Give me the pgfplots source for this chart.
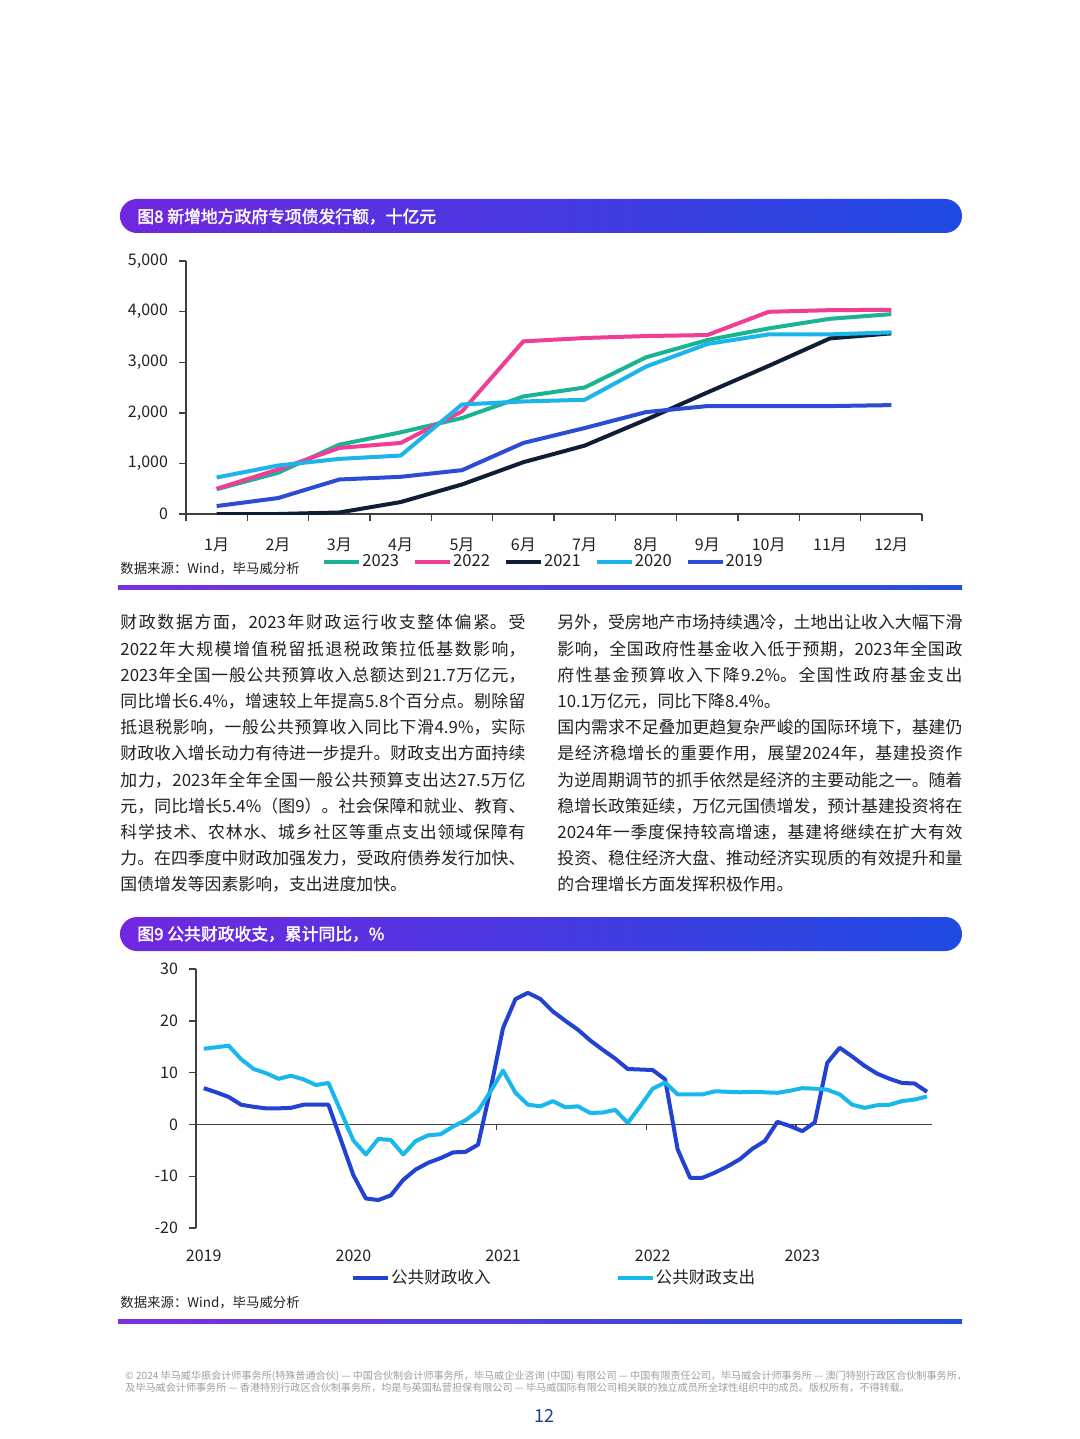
\documentclass[border=0pt]{standalone}
\usepackage{fontspec}
\setmainfont{Noto Sans CJK SC}[AutoFakeBold=2]
\usepackage{pgfplots}
\pgfplotsset{compat=1.18}
\XeTeXlinebreaklocale "zh"
\XeTeXlinebreakskip=0pt plus 3pt
\XeTeXlinebreakpenalty=10000
\setlength\parindent{0pt}
\definecolor{hdL}{HTML}{7127E0}
\definecolor{hdR}{HTML}{1F4BE2}
\definecolor{dvL}{HTML}{7A30DE}
\definecolor{dvR}{HTML}{2451D9}
\definecolor{c23}{HTML}{1AB394}
\definecolor{c22}{HTML}{EF3E94}
\definecolor{c21}{HTML}{0F1E33}
\definecolor{c20}{HTML}{1CB5EB}
\definecolor{c19}{HTML}{2D4CD6}
\definecolor{inc}{HTML}{2342D2}
\definecolor{exp}{HTML}{19B8EC}
\definecolor{txt}{HTML}{222222}
\definecolor{pgnum}{HTML}{1E3F8F}
\newcommand\body{\fontsize{8.43pt}{13.1pt}\selectfont}
\newcommand\hdf{\bfseries\fontsize{8.4pt}{10pt}\selectfont}
\newcommand\tkf{\fontsize{8pt}{9.6pt}\selectfont}
\newcommand\srcf{\fontsize{6.7pt}{8pt}\selectfont}
\begin{document}
\begin{tikzpicture}
\path[use as bounding box, fill=white] (0,0) rectangle (540pt,-719.5pt);
\begin{scope}[x=0.5pt,y=-0.5pt]
% header 1
\shade[left color=hdL, right color=hdR, rounded corners=8.5pt] (120,199) rectangle (962,233);
\node[anchor=west, text=white, font=\hdf, inner sep=0pt] at (137,216.5) {图8 新增地方政府专项债发行额，十亿元};
% divider 1
\shade[left color=dvL, right color=dvR] (118,585) rectangle (962,589);
\node[anchor=west, text=txt, font=\srcf, inner sep=0pt] at (120,569) {数据来源：Wind，毕马威分析};
% body text
\node[anchor=north west, inner sep=0pt, text width=202.5pt, align=justify, font=\body, text=txt] at (120,608.4) {\rule{0pt}{10pt}财政数据方面，2023年财政运行收支整体偏紧。受\linebreak
2022年大规模增值税留抵退税政策拉低基数影响，\linebreak
2023年全国一般公共预算收入总额达到21.7万亿元，\linebreak
同比增长6.4\%，增速较上年提高5.8个百分点。剔除留\linebreak
抵退税影响，一般公共预算收入同比下滑4.9\%，实际\linebreak
财政收入增长动力有待进一步提升。财政支出方面持续\linebreak
加力，2023年全年全国一般公共预算支出达27.5万亿\linebreak
元，同比增长5.4\%（图9）。社会保障和就业、教育、\linebreak
科学技术、农林水、城乡社区等重点支出领域保障有\linebreak
力。在四季度中财政加强发力，受政府债券发行加快、\linebreak
国债增发等因素影响，支出进度加快。};
\node[anchor=north west, inner sep=0pt, text width=202.5pt, align=justify, font=\body, text=txt] at (557,608.4) {\rule{0pt}{10pt}另外，受房地产市场持续遇冷，土地出让收入大幅下滑\linebreak
影响，全国政府性基金收入低于预期，2023年全国政\linebreak
府性基金预算收入下降9.2\%。全国性政府基金支出\linebreak
10.1万亿元，同比下降8.4\%。\par
国内需求不足叠加更趋复杂严峻的国际环境下，基建仍\linebreak
是经济稳增长的重要作用，展望2024年，基建投资作\linebreak
为逆周期调节的抓手依然是经济的主要动能之一。随着\linebreak
稳增长政策延续，万亿元国债增发，预计基建投资将在\linebreak
2024年一季度保持较高增速，基建将继续在扩大有效\linebreak
投资、稳住经济大盘、推动经济实现质的有效提升和量\linebreak
的合理增长方面发挥积极作用。};
% header 2
\shade[left color=hdL, right color=hdR, rounded corners=8.5pt] (120,917) rectangle (962,951);
\node[anchor=west, text=white, font=\hdf, inner sep=0pt] at (137,934) {图9 公共财政收支，累计同比，\%};
% divider 2
\shade[left color=dvL, right color=dvR] (118,1319) rectangle (962,1323);
\node[anchor=west, text=txt, font=\srcf, inner sep=0pt] at (120,1303) {数据来源：Wind，毕马威分析};
% footer
\node[anchor=west, text=black!38, font=\fontsize{5.05pt}{6pt}\selectfont, inner sep=0pt] at (125,1376) {© 2024 毕马威华振会计师事务所(特殊普通合伙) — 中国合伙制会计师事务所，毕马威企业咨询 (中国) 有限公司 — 中国有限责任公司，毕马威会计师事务所 — 澳门特别行政区合伙制事务所，};
\node[anchor=west, text=black!38, font=\fontsize{5.05pt}{6pt}\selectfont, inner sep=0pt] at (125,1388) {及毕马威会计师事务所 — 香港特别行政区合伙制事务所，均是与英国私营担保有限公司 — 毕马威国际有限公司相关联的独立成员所全球性组织中的成员。版权所有，不得转载。};
\node[text=pgnum, font=\fontsize{9pt}{10pt}\selectfont, inner sep=0pt] at (544,1416) {12};
\end{scope}

% chart 1
\begin{axis}[
 at={(93pt,-257pt)}, anchor=south west,
 scale only axis, width=368pt, height=126.5pt,
 xmin=0.5, xmax=12.5, ymin=0, ymax=5000,
 axis x line=bottom, axis y line=left,
 axis line style={line width=0.7pt, color=black!75, -},
 tick style={line width=0.7pt, color=black!75},
 tick align=outside, major tick length=3.5pt,
 xtick={0.5,1.5,...,12.5}, x tick label as interval,
 xticklabels={1月,2月,3月,4月,5月,6月,7月,8月,9月,10月,11月,12月},
 ytick={0,1000,...,5000},
 yticklabels={0,{1,000},{2,000},{3,000},{4,000},{5,000}},
 tick label style={font=\tkf, text=txt},
 xticklabel style={yshift=-5pt},
 yticklabel style={xshift=-2pt},
 legend columns=5,
 legend style={at={(0.485,-0.19)}, anchor=center, draw=none, fill=none, inner sep=0pt,
   font=\fontsize{8.3pt}{10pt}\selectfont, text=txt, nodes={inner sep=0.5pt},
   /tikz/every even column/.append style={column sep=6.5pt}},
 legend image code/.code={\draw[#1, line width=2pt] (0pt,0pt) -- (17.5pt,0pt);},
 every axis plot/.append style={line width=2pt, line join=round},
]
\addplot[c23] coordinates {(1,490)(2,814)(3,1371)(4,1614)(5,1896)(6,2323)(7,2500)(8,3097)(9,3438)(10,3668)(11,3858)(12,3950)};
\addlegendentry{2023}
\addplot[c22] coordinates {(1,499)(2,879)(3,1306)(4,1404)(5,2028)(6,3412)(7,3478)(8,3517)(9,3537)(10,3996)(11,4029)(12,4035)};
\addlegendentry{2022}
\addplot[c21] coordinates {(1,0)(2,0)(3,30)(4,236)(5,584)(6,1024)(7,1352)(8,1864)(9,2402)(10,2927)(11,3471)(12,3570)};
\addlegendentry{2021}
\addplot[c20] coordinates {(1,722)(2,958)(3,1089)(4,1155)(5,2165)(6,2224)(7,2257)(8,2913)(9,3360)(10,3550)(11,3550)(12,3589)};
\addlegendentry{2020}
\addplot[c19] coordinates {(1,157)(2,315)(3,682)(4,735)(5,866)(6,1404)(7,1699)(8,2014)(9,2133)(10,2133)(11,2133)(12,2152)};
\addlegendentry{2019}
\end{axis}

% chart 2
\begin{axis}[
 at={(98pt,-614pt)}, anchor=south west,
 scale only axis, width=368pt, height=129.5pt,
 xmin=-0.62, xmax=58.4, ymin=-20, ymax=30,
 axis x line=bottom, axis y line=left,
 x axis line style={draw=none},
 y axis line style={line width=0.7pt, color=black!75, -},
 xtick={0,12,24,36,48}, xticklabels={2019,2020,2021,2022,2023},
 xtick style={draw=none},
 ytick={-20,-10,...,30}, yticklabels={-20,-10,0,10,20,30},
 ytick style={line width=0.7pt, color=black!75},
 tick align=outside, major tick length=3.5pt,
 tick label style={font=\tkf, text=txt},
 xticklabel style={yshift=-4pt},
 yticklabel style={xshift=-2pt},
 legend columns=2,
 legend style={at={(0.486,-0.193)}, anchor=center, draw=none, fill=none, inner sep=0pt,
   font=\fontsize{8.3pt}{10pt}\selectfont, text=txt, nodes={inner sep=0.5pt},
   /tikz/every even column/.append style={column sep=62pt}},
 legend image code/.code={\draw[#1, line width=2pt] (0pt,0pt) -- (17.5pt,0pt);},
 every axis plot/.append style={line width=2pt, line join=round},
 clip=false,
]
\draw[line width=0.7pt, black!75] (axis cs:-0.62,0) -- (axis cs:58.4,0);
\draw[line width=0.7pt, black!75] (axis cs:11.5,0) -- ++(0pt,-3pt);
\draw[line width=0.7pt, black!75] (axis cs:23.5,0) -- ++(0pt,-3pt);
\draw[line width=0.7pt, black!75] (axis cs:35.5,0) -- ++(0pt,-3pt);
\draw[line width=0.7pt, black!75] (axis cs:47.5,0) -- ++(0pt,-3pt);
\addplot[inc] coordinates {(0,7.0)(1,6.2)(2,5.3)(3,3.8)(4,3.4)(5,3.1)(6,3.1)(7,3.2)(8,3.8)(9,3.8)(10,3.8)(11,-3.0)(12,-9.8)(13,-14.3)(14,-14.6)(15,-13.7)(16,-10.7)(17,-8.7)(18,-7.4)(19,-6.5)(20,-5.4)(21,-5.3)(22,-3.9)(23,6.8)(24,18.6)(25,24.2)(26,25.4)(27,24.2)(28,21.8)(29,20.0)(30,18.3)(31,16.2)(32,14.4)(33,12.7)(34,10.7)(35,10.6)(36,10.5)(37,8.7)(38,-4.8)(39,-10.3)(40,-10.3)(41,-9.3)(42,-8.1)(43,-6.7)(44,-4.7)(45,-3.2)(46,0.5)(47,-0.3)(48,-1.3)(49,0.4)(50,11.9)(51,14.8)(52,13.1)(53,11.3)(54,9.8)(55,8.8)(56,8.0)(57,7.9)(58,6.3)};
\addlegendentry{公共财政收入}
\addplot[exp] coordinates {(0,14.6)(1,14.9)(2,15.2)(3,12.6)(4,10.7)(5,9.9)(6,8.8)(7,9.4)(8,8.7)(9,7.6)(10,8.0)(11,2.5)(12,-3.1)(13,-5.8)(14,-2.8)(15,-3.0)(16,-5.8)(17,-3.2)(18,-2.1)(19,-1.9)(20,-0.4)(21,0.8)(22,2.6)(23,6.4)(24,10.4)(25,6.1)(26,3.8)(27,3.5)(28,4.5)(29,3.3)(30,3.5)(31,2.2)(32,2.3)(33,2.8)(34,0.3)(35,3.5)(36,6.9)(37,8.1)(38,5.8)(39,5.8)(40,5.8)(41,6.4)(42,6.3)(43,6.2)(44,6.3)(45,6.2)(46,6.1)(47,6.5)(48,7.0)(49,6.9)(50,6.7)(51,5.8)(52,3.8)(53,3.2)(54,3.7)(55,3.8)(56,4.5)(57,4.8)(58,5.4)};
\addlegendentry{公共财政支出}
\end{axis}
\end{tikzpicture}
\end{document}
